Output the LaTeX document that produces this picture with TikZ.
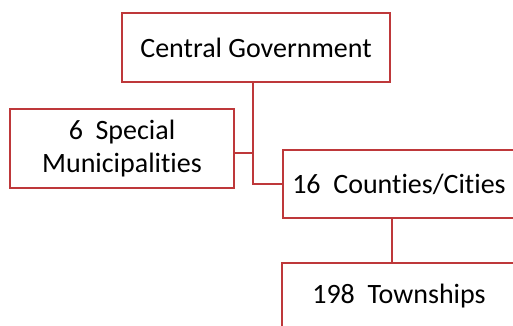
\documentclass[tikz,border=0pt]{standalone}
\usepackage{fontspec}
\setmainfont[Ligatures=NoCommon]{Carlito}
\definecolor{boxred}{RGB}{190,56,58}
\tikzstyle{box}=[rectangle,draw=boxred,line width=2pt,fill=white,inner sep=0pt,align=center,anchor=center,font=\fontsize{28}{33}\selectfont]
\tikzstyle{link}=[draw=boxred,line width=2pt]
\begin{document}
\begin{tikzpicture}[x=1pt,y=-1pt]
	\useasboundingbox (0,0) rectangle (513,325);
	\clip (0,0) rectangle (513,325);

	\node[box, minimum width=268pt, minimum height=69pt](central) at (256,47.5){Central Government};
	\node[box, minimum width=224pt, minimum height=79pt](special) at (122,148.5){6~~Special\\Municipalities};
	\node[box, minimum width=232pt, minimum height=68pt](counties) at (399,184){16~~Counties/Cities};
	\node[box, minimum width=234pt, minimum height=66pt](townships) at (399,296){198~~Townships};

	\coordinate (trunk) at ([xshift=-3pt]central.south);
	\coordinate (branch) at ([yshift=-4pt]special.east);
	\coordinate (drop) at ([xshift=-7pt]counties.south);

	\draw[link] (trunk) |- (counties.west);
	\draw[link] (branch) -- (branch -| trunk);
	\draw[link] (drop) -- (drop |- townships.north);

\end{tikzpicture}
\end{document}
